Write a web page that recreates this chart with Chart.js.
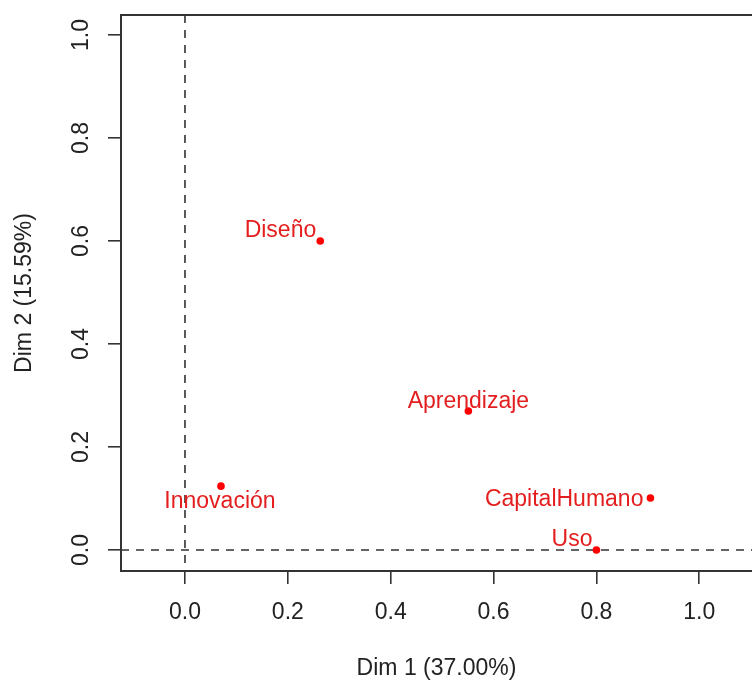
<!DOCTYPE html>
<html>
<head>
<meta charset="utf-8">
<script src="https://cdn.jsdelivr.net/npm/chart.js@4/dist/chart.umd.min.js"></script>
<style>
  html, body { margin: 0; padding: 0; background: #fff; }
  #wrap { width: 752px; height: 683px; }
</style>
</head>
<body>
<div id="wrap"><canvas id="c" width="752" height="683"></canvas></div>
<script>
// ---- data ----
const categories = ["Diseño", "Aprendizaje", "Innovación", "CapitalHumano", "Uso"];
const dim1Values = [0.263, 0.551, 0.070, 0.905, 0.800];
const dim2Values = [0.600, 0.270, 0.124, 0.101, 0.000];
const xTicks = [0.0, 0.2, 0.4, 0.6, 0.8, 1.0];
const yTicks = [0.0, 0.2, 0.4, 0.6, 0.8, 1.0];
const xTitle = "Dim 1 (37.00%)";
const yTitle = "Dim 2 (15.59%)";

// ---- label placement style (not data) ----
const labelPlacement = ["topleft", "top", "below", "left", "topleft"];

const FONT = "'Liberation Sans', Arial, sans-serif";
const AXIS_COLOR = "#222";
const FRAME_COLOR = "#333";
const RED = "#ff0000";
const LABEL_RED = "#e41e1e";

const points = categories.map((c, i) => ({ x: dim1Values[i], y: dim2Values[i] }));

function zeroPad(scale) {
  scale.paddingTop = 0; scale.paddingBottom = 0;
  scale.paddingLeft = 0; scale.paddingRight = 0;
}

const framePlugin = {
  id: 'frameAndRefs',
  beforeDatasetsDraw(chart) {
    const { ctx, chartArea: a, scales } = chart;
    const x0 = scales.x.getPixelForValue(0);
    const y0 = scales.y.getPixelForValue(0);
    ctx.save();
    ctx.strokeStyle = FRAME_COLOR;
    ctx.lineWidth = 1.6;
    ctx.setLineDash([8, 7]);
    ctx.beginPath();
    ctx.moveTo(x0, a.top);
    ctx.lineTo(x0, a.bottom);
    ctx.moveTo(a.left, y0);
    ctx.lineTo(a.right + 2, y0);
    ctx.stroke();
    ctx.setLineDash([]);
    ctx.lineWidth = 2;
    ctx.beginPath();
    ctx.moveTo(a.right + 2, a.top);
    ctx.lineTo(a.left, a.top);
    ctx.lineTo(a.left, a.bottom);
    ctx.lineTo(a.right + 2, a.bottom);
    ctx.stroke();
    ctx.restore();
  },
  afterDatasetsDraw(chart) {
    const { ctx } = chart;
    const meta = chart.getDatasetMeta(0);
    ctx.save();
    ctx.font = "23px " + FONT;
    ctx.fillStyle = LABEL_RED;
    meta.data.forEach((el, i) => {
      const px = el.x, py = el.y;
      const p = labelPlacement[i];
      ctx.textBaseline = 'alphabetic';
      if (p === 'topleft') {
        ctx.textAlign = 'right';
        ctx.fillText(categories[i], px - 4, py - 4);
      } else if (p === 'top') {
        ctx.textAlign = 'center';
        ctx.fillText(categories[i], px, py - 3);
      } else if (p === 'left') {
        ctx.textAlign = 'right';
        ctx.fillText(categories[i], px - 7, py + 8);
      } else if (p === 'below') {
        ctx.textAlign = 'center';
        ctx.fillText(categories[i], px - 1, py + 22);
      }
    });
    ctx.restore();
  }
};

new Chart(document.getElementById('c'), {
  type: 'scatter',
  data: {
    datasets: [{
      data: points,
      backgroundColor: RED,
      borderColor: RED,
      pointRadius: 3.8,
      pointBorderWidth: 0,
      pointHoverRadius: 3.8,
      clip: false
    }]
  },
  options: {
    responsive: false,
    animation: false,
    devicePixelRatio: 1,
    layout: { autoPadding: false, padding: { top: 15, right: 0, left: 0, bottom: 0 } },
    plugins: { legend: { display: false }, tooltip: { enabled: false } },
    scales: {
      x: {
        type: 'linear',
        min: -0.1244,
        max: 1.1025,
        afterBuildTicks(scale) { scale.ticks = xTicks.map(v => ({ value: v })); },
        afterFit(scale) { scale.height = 112; zeroPad(scale); },
        border: { display: false },
        grid: { drawOnChartArea: false, drawTicks: true, tickLength: 13, tickColor: FRAME_COLOR, lineWidth: 1.6 },
        ticks: {
          color: AXIS_COLOR,
          font: { family: FONT, size: 23 },
          padding: 15,
          maxRotation: 0,
          minRotation: 0,
          callback: v => Number(v).toFixed(1)
        },
        title: {
          display: true,
          text: xTitle,
          color: AXIS_COLOR,
          font: { family: FONT, size: 23 },
          padding: { top: 0, bottom: 1 }
        }
      },
      y: {
        type: 'linear',
        min: -0.0408,
        max: 1.0388,
        afterBuildTicks(scale) { scale.ticks = yTicks.map(v => ({ value: v })); },
        afterFit(scale) { scale.width = 121; zeroPad(scale); },
        border: { display: false },
        grid: { drawOnChartArea: false, drawTicks: true, tickLength: 13, tickColor: FRAME_COLOR, lineWidth: 1.6 },
        ticks: {
          color: AXIS_COLOR,
          font: { family: FONT, size: 23 },
          padding: 10,
          minRotation: 90,
          maxRotation: 90,
          crossAlign: 'center',
          callback: v => Number(v).toFixed(1)
        },
        title: {
          display: true,
          text: yTitle,
          color: AXIS_COLOR,
          font: { family: FONT, size: 23 },
          padding: { top: 11, bottom: 0 }
        }
      }
    }
  },
  plugins: [framePlugin]
});
</script>
</body>
</html>
